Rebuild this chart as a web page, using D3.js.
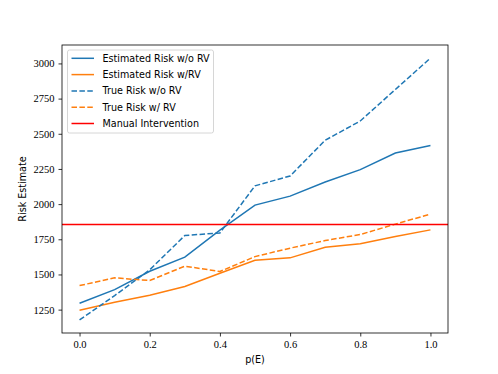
<!DOCTYPE html>
<html>
<head>
<meta charset="utf-8">
<script src="https://cdn.jsdelivr.net/npm/d3@7"></script>
<style>
  body { margin: 0; background: #fff; }
</style>
</head>
<body>
<div id="chart"></div>
<script>
// chart data
const p_e = [0.0, 0.1, 0.2, 0.3, 0.4, 0.5, 0.6, 0.7, 0.8, 0.9, 1.0];
const est_wo_rv = [1295, 1392, 1523, 1623, 1815, 1993, 2057, 2157, 2245, 2363, 2416];
const est_w_rv = [1245, 1302, 1352, 1414, 1509, 1601, 1618, 1694, 1718, 1770, 1817];
const true_wo_rv = [1177, 1350, 1533, 1777, 1795, 2130, 2200, 2454, 2591, 2815, 3038];
const true_w_rv = [1421, 1476, 1457, 1559, 1521, 1627, 1687, 1741, 1784, 1858, 1929];
const manual_intervention = 1855;
const x_ticks = [0.0, 0.2, 0.4, 0.6, 0.8, 1.0];
const y_ticks = [1250, 1500, 1750, 2000, 2250, 2500, 2750, 3000];

const series = [
  {name: 'Estimated Risk w/o RV', values: est_wo_rv, color: '#1f77b4', dash: null},
  {name: 'Estimated Risk w/RV', values: est_w_rv, color: '#ff7f0e', dash: null},
  {name: 'True Risk w/o RV', values: true_wo_rv, color: '#1f77b4', dash: '5.5,2.4'},
  {name: 'True Risk w/ RV', values: true_w_rv, color: '#ff7f0e', dash: '5.5,2.4'}
];

const serif = '"Liberation Serif", "DejaVu Serif", serif';
const sans = '"DejaVu Sans", sans-serif';

const width = 498, height = 374;
const margin = {top: 45, bottom: 41, left: 62, right: 50};
const w = width - margin.left - margin.right;
const h = height - margin.top - margin.bottom;

const svg = d3.select('#chart')
  .append('svg')
    .attr('width', width)
    .attr('height', height);

const g = svg.append('g')
  .attr('transform', 'translate(' + margin.left + ',' + margin.top + ')');

// matplotlib style 5% padding
const all = series.flatMap(s => s.values);
const ymin = d3.min(all), ymax = d3.max(all);
const ypad = (ymax - ymin) * 0.05;

const x = d3.scaleLinear().domain([-0.05, 1.05]).range([0, w]);
const y = d3.scaleLinear().domain([ymin - ypad, ymax + ypad]).range([h, 0]);

const xaxis = g.append('g')
  .attr('transform', 'translate(0,' + h + ')')
  .call(d3.axisBottom(x).tickValues(x_ticks).tickFormat(d3.format('.1f')).tickSize(3.5).tickPadding(4));

const yaxis = g.append('g')
  .call(d3.axisLeft(y).tickValues(y_ticks).tickFormat(d3.format('d')).tickSize(3.5).tickPadding(4));

[xaxis, yaxis].forEach(a => {
  a.attr('font-family', null).attr('font-size', null);
  a.select('.domain').remove();
  a.selectAll('.tick line').attr('stroke', '#000').attr('stroke-width', 0.8);
  a.selectAll('.tick text')
    .attr('fill', '#000')
    .style('font-family', serif)
    .style('font-size', '10.5px');
});

const line = d3.line()
  .x((d, i) => x(p_e[i]))
  .y(d => y(d));

g.selectAll('path.series')
  .data(series)
  .join('path')
    .attr('class', 'series')
    .attr('d', d => line(d.values))
    .attr('fill', 'none')
    .attr('stroke', d => d.color)
    .attr('stroke-width', 1.5)
    .attr('stroke-dasharray', d => d.dash);

g.append('line')
  .attr('x1', 0)
  .attr('x2', w)
  .attr('y1', y(manual_intervention))
  .attr('y2', y(manual_intervention))
  .attr('stroke', '#ff0000')
  .attr('stroke-width', 1.5);

// frame
g.append('rect')
  .attr('width', w)
  .attr('height', h)
  .attr('fill', 'none')
  .attr('stroke', '#000')
  .attr('stroke-width', 0.8);

// axis labels
svg.append('text')
  .attr('x', margin.left + w / 2)
  .attr('y', 363)
  .attr('text-anchor', 'middle')
  .style('font-family', sans)
  .style('font-size', '9.6px')
  .text('p(E)');

svg.append('text')
  .attr('transform', 'rotate(-90)')
  .attr('x', -(margin.top + h / 2))
  .attr('y', 26)
  .attr('text-anchor', 'middle')
  .style('font-family', sans)
  .style('font-size', '9.6px')
  .text('Risk Estimate');

// legend
const legendItems = series.concat([{name: 'Manual Intervention', color: '#ff0000', dash: null}]);
const legend = svg.append('g').attr('transform', 'translate(67.5,50)');
legend.append('rect')
  .attr('width', 146)
  .attr('height', 83)
  .attr('rx', 2)
  .attr('fill', '#fff')
  .attr('fill-opacity', 0.8)
  .attr('stroke', '#ccc')
  .attr('stroke-width', 0.8);

const rows = legend.selectAll('g.row')
  .data(legendItems)
  .join('g')
    .attr('class', 'row')
    .attr('transform', (d, i) => 'translate(0,' + (8.3 + i * 16.3) + ')');

rows.append('line')
  .attr('x1', 4)
  .attr('x2', 26.5)
  .attr('stroke', d => d.color)
  .attr('stroke-width', 1.5)
  .attr('stroke-dasharray', d => d.dash);

rows.append('text')
  .attr('x', 35)
  .attr('dy', '0.35em')
  .style('font-family', sans)
  .style('font-size', '9.6px')
  .text(d => d.name);
</script>
</body>
</html>
